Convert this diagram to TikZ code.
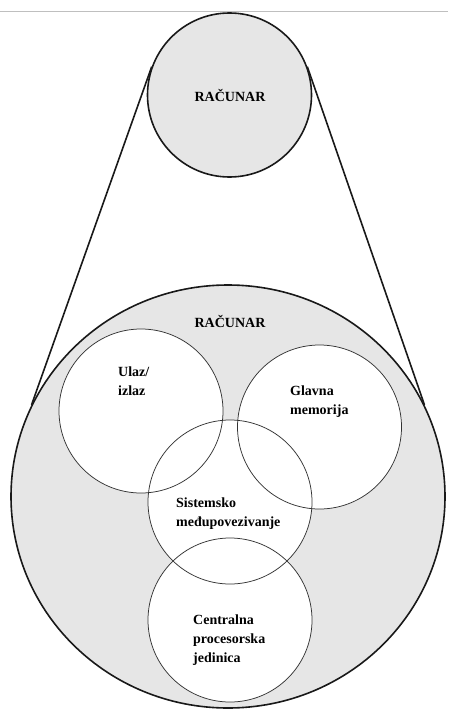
\documentclass[tikz,border=0pt]{standalone}
\usepackage{fontspec}
\setmainfont{Liberation Serif}
\usetikzlibrary{shapes,calc}
\pgfdeclarelayer{background}
\pgfsetlayers{background,main}
\definecolor{unitgray}{RGB}{230,230,230}
\tikzset{
	whole/.style={draw=black!90,line width=1.6pt,inner sep=0pt},
	unit/.style={circle,draw=black!80,line width=0.75pt,inner sep=0pt,minimum size=164pt},
	lbl/.style={font=\bfseries\fontsize{14}{19}\selectfont,inner sep=0pt,align=left},
}
\begin{document}
\begin{tikzpicture}[x=1pt,y=-1pt]
				\useasboundingbox (0,0) rectangle (448,717);
				\coordinate(ruleL) at (0,11.5);
				\coordinate(ruleR) at (448,11.5);
				\draw[black!25,line width=0.8pt] (ruleL) -- (ruleR);

				\node[whole,circle,fill=unitgray,minimum size=164pt] (top) at (229.5,95) {};
				\node[whole,ellipse,minimum width=434pt,minimum height=423pt] (big) at (228,496.5) {};
				\node[unit] (io) at (141,411) {};
				\node[unit] (mem) at (319.5,427) {};
				\node[unit] (bus) at (230,502) {};
				\node[unit] (cpu) at (230,620) {};

				\begin{pgfonlayer}{background}
					\fill[unitgray] (big.center) ellipse[x radius=217pt,y radius=211.5pt];
					\foreach \u in {io,mem,bus,cpu}
						\fill[white] (\u.center) circle[radius=82pt];
				\end{pgfonlayer}

				\draw[whole] (top.160) -- (big.155);
				\draw[whole] (top.20) -- (big.25);

				\node[lbl,anchor=base] (topname) at (230,101.5) {RAČUNAR};
				\node[lbl,anchor=base] (bigname) at (230,327) {RAČUNAR};
				\node[lbl,anchor=north west] (iotext) at (118,367) {Ulaz/\\izlaz};
				\node[lbl,anchor=north west] (memtext) at (290,386) {Glavna\\memorija};
				\node[lbl,anchor=north west] (bustext) at (176,498) {Sistemsko\\međupovezivanje};
				\node[lbl,anchor=north west] (cputext) at (193,615) {Centralna\\procesorska\\jedinica};
			\end{tikzpicture}
\end{document}
